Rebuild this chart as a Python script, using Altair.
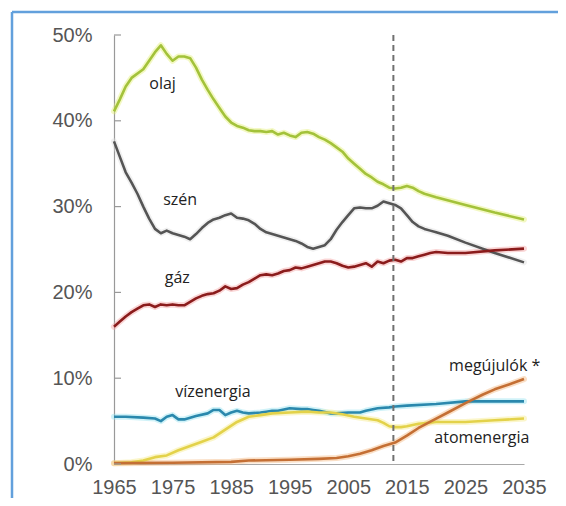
import altair as alt
import pandas as pd

# ---- data ----
oil_years = [1965, 1966, 1967, 1968, 1970, 1971, 1972, 1973, 1974, 1975, 1976, 1977, 1978, 1979, 1980,
             1981, 1982, 1983, 1984, 1985, 1986, 1987, 1988, 1989, 1990, 1991, 1992, 1993, 1994, 1995,
             1996, 1997, 1998, 1999, 2000, 2001, 2002, 2003, 2004, 2005, 2006, 2007, 2008, 2009, 2010,
             2011, 2012, 2013, 2014, 2015, 2016, 2017, 2018, 2020, 2025, 2030, 2035]
oil_vals = [41.1, 42.5, 44.0, 45.0, 46.0, 47.0, 48.0, 48.8, 47.8, 47.0, 47.5, 47.5, 47.3, 46.2, 44.8,
            43.6, 42.5, 41.5, 40.5, 39.8, 39.4, 39.2, 38.9, 38.8, 38.8, 38.7, 38.8, 38.4, 38.6, 38.3,
            38.1, 38.6, 38.7, 38.5, 38.1, 37.8, 37.4, 36.9, 36.4, 35.6, 35.0, 34.4, 33.8, 33.4, 32.9,
            32.6, 32.2, 32.1, 32.2, 32.4, 32.2, 31.8, 31.5, 31.1, 30.2, 29.3, 28.5]

coal_years = [1965, 1966, 1967, 1968, 1969, 1970, 1971, 1972, 1973, 1974, 1975, 1976, 1977, 1978, 1979,
              1980, 1981, 1982, 1983, 1984, 1985, 1986, 1987, 1988, 1989, 1990, 1991, 1992, 1993, 1994,
              1995, 1996, 1997, 1998, 1999, 2000, 2001, 2002, 2003, 2004, 2005, 2006, 2007, 2008, 2009,
              2010, 2011, 2012, 2013, 2014, 2015, 2016, 2017, 2018, 2019, 2020, 2022, 2025, 2030, 2035]
coal_vals = [37.6, 35.8, 34.0, 32.8, 31.5, 30.0, 28.6, 27.4, 26.9, 27.2, 26.9, 26.7, 26.5, 26.2, 26.8,
             27.5, 28.1, 28.5, 28.7, 29.0, 29.2, 28.7, 28.6, 28.4, 28.0, 27.4, 27.0, 26.8, 26.6, 26.4,
             26.2, 26.0, 25.7, 25.3, 25.1, 25.3, 25.5, 26.2, 27.3, 28.2, 29.0, 29.8, 29.9, 29.8, 29.8,
             30.1, 30.6, 30.4, 30.2, 29.8, 29.0, 28.2, 27.7, 27.4, 27.2, 27.0, 26.6, 25.8, 24.6, 23.5]

gas_years = [1965, 1966, 1967, 1968, 1969, 1970, 1971, 1972, 1973, 1974, 1975, 1976, 1977, 1978, 1979,
             1980, 1981, 1982, 1983, 1984, 1985, 1986, 1987, 1988, 1989, 1990, 1991, 1992, 1993, 1994,
             1995, 1996, 1997, 1998, 1999, 2000, 2001, 2002, 2003, 2004, 2005, 2006, 2007, 2008, 2009,
             2010, 2011, 2012, 2013, 2014, 2015, 2016, 2017, 2018, 2019, 2020, 2022, 2025, 2030, 2035]
gas_vals = [16.0, 16.6, 17.2, 17.7, 18.1, 18.5, 18.6, 18.3, 18.6, 18.5, 18.6, 18.5, 18.5, 18.9, 19.3,
            19.6, 19.8, 19.9, 20.2, 20.7, 20.4, 20.5, 20.9, 21.2, 21.6, 22.0, 22.1, 22.0, 22.2, 22.5,
            22.6, 22.9, 22.8, 23.0, 23.2, 23.4, 23.6, 23.6, 23.4, 23.1, 22.9, 23.0, 23.2, 23.4, 23.0,
            23.6, 23.4, 23.7, 23.8, 23.6, 24.0, 24.0, 24.2, 24.4, 24.6, 24.7, 24.6, 24.6, 24.9, 25.1]

hydro_years = [1965, 1967, 1970, 1972, 1973, 1974, 1975, 1976, 1977, 1979, 1981, 1982, 1983, 1984, 1985,
               1986, 1987, 1988, 1990, 1991, 1992, 1993, 1995, 1997, 1998, 1999, 2000, 2002, 2003, 2005,
               2007, 2008, 2010, 2012, 2013, 2015, 2020, 2025, 2030, 2035]
hydro_vals = [5.5, 5.5, 5.4, 5.3, 5.0, 5.5, 5.7, 5.2, 5.2, 5.6, 5.9, 6.3, 6.3, 5.7, 6.0,
              6.2, 6.0, 5.9, 6.0, 6.1, 6.2, 6.2, 6.5, 6.4, 6.4, 6.3, 6.2, 5.9, 5.9, 6.0,
              6.0, 6.2, 6.5, 6.6, 6.7, 6.8, 7.0, 7.3, 7.3, 7.3]

nuclear_years = [1965, 1968, 1970, 1972, 1974, 1976, 1978, 1980, 1982, 1984, 1986, 1988, 1990, 1992, 1995,
                 1998, 2000, 2002, 2004, 2006, 2008, 2010, 2011, 2012, 2013, 2014, 2015, 2017, 2020, 2025,
                 2030, 2035]
nuclear_vals = [0.1, 0.2, 0.4, 0.8, 1.0, 1.6, 2.1, 2.6, 3.1, 4.0, 4.9, 5.5, 5.7, 5.9, 6.0,
                6.1, 6.0, 6.0, 5.8, 5.5, 5.3, 5.1, 4.8, 4.4, 4.3, 4.3, 4.4, 4.7, 4.9, 4.9,
                5.1, 5.3]

renew_years = [1965, 1975, 1985, 1988, 1995, 2000, 2003, 2005, 2007, 2009, 2011, 2013, 2015, 2017, 2020,
               2022, 2025, 2028, 2030, 2033, 2035]
renew_vals = [0.1, 0.15, 0.25, 0.4, 0.5, 0.6, 0.7, 0.9, 1.2, 1.6, 2.1, 2.5, 3.3, 4.2, 5.3,
              6.0, 7.1, 8.1, 8.7, 9.4, 9.9]

series_names = ["olaj", "szén", "gáz", "vízenergia", "atomenergia", "megújulók"]
series_colors = ["#a3c23a", "#555555", "#8b1c1c", "#2a88ad", "#e3d24a", "#c46f34"]
halo_colors = ["#e4f07a", "#dedede", "#f3a3a3", "#97e2f0", "#f6ec8c", "#f5b880"]

label_texts = ["olaj", "szén", "gáz", "vízenergia", "megújulók *", "atomenergia"]
label_years = [1973.3, 1976.3, 1975.8, 1981.9, 2030.0, 2027.8]
label_vals = [44.3, 30.8, 21.7, 8.4, 11.4, 3.0]

y_ticks = [0, 10, 20, 30, 40, 50]
x_ticks = [1965, 1975, 1985, 1995, 2005, 2015, 2025, 2035]
cut_year = [2012.7]

# ---- build table ----
rows = []
for name, ys, vs in zip(series_names,
                        [oil_years, coal_years, gas_years, hydro_years, nuclear_years, renew_years],
                        [oil_vals, coal_vals, gas_vals, hydro_vals, nuclear_vals, renew_vals]):
    for y, v in zip(ys, vs):
        rows.append({"year": y, "value": v, "series": name})
df = pd.DataFrame(rows)
labels_df = pd.DataFrame({"year": label_years, "value": label_vals, "text": label_texts})
ticks_df = pd.DataFrame({"value": y_ticks, "x0": [1965] * len(y_ticks), "x1": [1966.2] * len(y_ticks)})
cut_df = pd.DataFrame({"year": cut_year})

xscale = alt.Scale(domain=[1965, 2035], nice=False, zero=False)
yscale = alt.Scale(domain=[0, 50], nice=False)

x_enc = alt.X("year:Q", scale=xscale,
              axis=alt.Axis(values=x_ticks, format="d", title=None, grid=False, ticks=False,
                            labelFontSize=20, labelFont="Liberation Sans", labelColor="#555555",
                            labelPadding=13, domainColor="#a8a8a8", domainWidth=1.2,
                            labelFlush=False, labelOverlap=False))
y_enc = alt.Y("value:Q", scale=yscale,
              axis=alt.Axis(values=y_ticks, labelExpr="datum.value + '%'", title=None, grid=False,
                            ticks=False, labelFontSize=20, labelFont="Liberation Sans",
                            labelColor="#555555", labelPadding=22, domainColor="#999999",
                            domainWidth=1.2))

frame_top = alt.Chart(pd.DataFrame({"a": [0]})).mark_rule(color="#62a0dc", strokeWidth=2.5).encode(
    x=alt.value(-102), x2=alt.value(460), y=alt.value(-23))
frame_left = alt.Chart(pd.DataFrame({"a": [0]})).mark_rule(color="#62a0dc", strokeWidth=2.5).encode(
    x=alt.value(-102), y=alt.value(-23), y2=alt.value(480))

tick_marks = alt.Chart(ticks_df).mark_rule(color="#999999", strokeWidth=1.2).encode(
    x=alt.X("x0:Q", scale=xscale), x2="x1:Q", y=alt.Y("value:Q", scale=yscale))

cut_line = alt.Chart(cut_df).mark_rule(color="#707070", strokeWidth=2, strokeDash=[6, 4]).encode(
    x=alt.X("year:Q", scale=xscale), y=alt.value(0), y2=alt.value(429))

halo = alt.Chart(df).mark_line(strokeWidth=6, opacity=0.45, strokeJoin="round", strokeCap="round").encode(
    x=x_enc, y=y_enc,
    color=alt.Color("series:N", scale=alt.Scale(domain=series_names, range=halo_colors), legend=None),
    detail="series:N")

lines = alt.Chart(df).mark_line(strokeWidth=2.6, strokeJoin="round").encode(
    x=alt.X("year:Q", scale=xscale),
    y=alt.Y("value:Q", scale=yscale),
    stroke=alt.Stroke("series:N", scale=alt.Scale(domain=series_names, range=series_colors), legend=None),
    detail="series:N")

texts = alt.Chart(labels_df).mark_text(font="Open Sans", fontSize=16, color="#222222").encode(
    x=alt.X("year:Q", scale=xscale), y=alt.Y("value:Q", scale=yscale), text="text:N")

chart = alt.layer(frame_top, frame_left, halo, lines, tick_marks, cut_line, texts).resolve_scale(
    color="independent").properties(
    width=410, height=429,
    autosize=alt.AutoSizeParams(type="none"),
    padding={"left": 106, "top": 27, "right": 34, "bottom": 34},
    background="white",
).configure_view(stroke=None)

chart.save("out.html", embed_options={"renderer": "svg", "actions": False})
